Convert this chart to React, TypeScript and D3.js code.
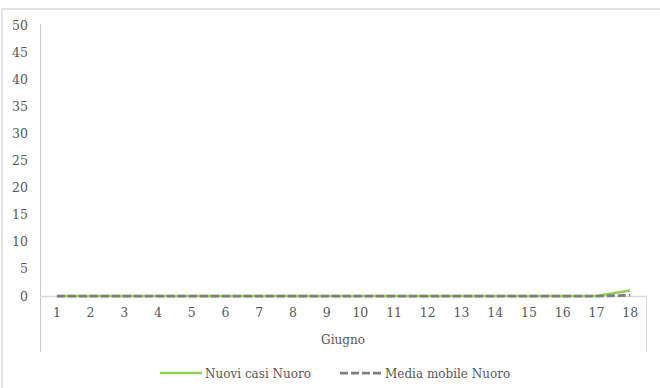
import React, { useEffect, useRef } from "react";
import * as d3 from "d3";

const days = ["1", "2", "3", "4", "5", "6", "7", "8", "9", "10", "11", "12", "13", "14", "15", "16", "17", "18"];
const nuoviCasi = [0, 0, 0, 0, 0, 0, 0, 0, 0, 0, 0, 0, 0, 0, 0, 0, 0, 1];
const mediaMobile = [0, 0, 0, 0, 0, 0, 0, 0, 0, 0, 0, 0, 0, 0, 0, 0, 0, 0.14];
const yTicks = [0, 5, 10, 15, 20, 25, 30, 35, 40, 45, 50];

const W = 660;
const H = 388;
const FONT = "'DejaVu Serif', serif";

function App() {
  const svgRef: any = useRef(null);

  useEffect(() => {
    draw();
  }, []);

  const draw = () => {
    const svg = d3.select(svgRef.current);
    svg.selectAll("*").remove();

    // outer chart frame
    svg
      .append("rect")
      .attr("x", 2)
      .attr("y", 9)
      .attr("width", W + 10)
      .attr("height", H + 10)
      .attr("fill", "#fff")
      .attr("stroke", "#d9d9d9")
      .attr("stroke-width", 1.5);

    const x = d3.scaleBand().domain(days).range([40, 647]);
    const y = d3.scaleLinear().domain([0, 50]).range([296, 25]);
    const cx = (d: string) => (x(d) as number) + x.bandwidth() / 2;

    // y axis
    const gy = svg.append("g").attr("transform", "translate(40,0)");
    gy.call(d3.axisLeft(y).tickValues(yTicks).tickSize(0).tickPadding(12) as any);
    gy.select(".domain").remove();
    gy.selectAll("text")
      .attr("fill", "#595959")
      .attr("font-family", FONT)
      .attr("font-size", 12.5);
    svg
      .append("line")
      .attr("x1", 40.5)
      .attr("x2", 40.5)
      .attr("y1", y(50) - 1)
      .attr("y2", 352)
      .attr("stroke", "#c8c8c8")
      .attr("stroke-width", 1);

    // x axis
    svg
      .append("line")
      .attr("x1", 40)
      .attr("x2", 647)
      .attr("y1", y(0) + 0.5)
      .attr("y2", y(0) + 0.5)
      .attr("stroke", "#d9d9d9")
      .attr("stroke-width", 1.5);
    svg
      .append("line")
      .attr("x1", 646.5)
      .attr("x2", 646.5)
      .attr("y1", y(0))
      .attr("y2", 352)
      .attr("stroke", "#d9d9d9")
      .attr("stroke-width", 1);
    const gx = svg.append("g").attr("transform", `translate(0,${y(0)})`);
    gx.call(d3.axisBottom(x).tickSize(0).tickPadding(12) as any);
    gx.select(".domain").remove();
    gx.selectAll("text")
      .attr("fill", "#595959")
      .attr("font-family", FONT)
      .attr("font-size", 12.5);

    svg
      .append("text")
      .attr("x", 343)
      .attr("y", 344)
      .attr("text-anchor", "middle")
      .attr("fill", "#595959")
      .attr("font-family", FONT)
      .attr("font-size", 12)
      .text("Giugno");

    const line = d3
      .line<number>()
      .x((_d, i) => cx(days[i]))
      .y((d) => y(d));

    svg
      .append("path")
      .datum(nuoviCasi)
      .attr("fill", "none")
      .attr("stroke", "#92d050")
      .attr("stroke-width", 2.5)
      .attr("d", line as any);

    svg
      .append("path")
      .datum(mediaMobile)
      .attr("fill", "none")
      .attr("stroke", "#7f7f7f")
      .attr("stroke-width", 2.75)
      .attr("stroke-dasharray", "8,3")
      .attr("d", line as any);

    // legend
    const lg = svg.append("g");
    lg.append("line")
      .attr("x1", 160)
      .attr("x2", 202)
      .attr("y1", 373)
      .attr("y2", 373)
      .attr("stroke", "#92d050")
      .attr("stroke-width", 2.5);
    lg.append("text")
      .attr("x", 205)
      .attr("y", 377.5)
      .attr("fill", "#595959")
      .attr("font-family", FONT)
      .attr("font-size", 12)
      .text("Nuovi casi Nuoro");
    lg.append("line")
      .attr("x1", 340)
      .attr("x2", 383)
      .attr("y1", 373)
      .attr("y2", 373)
      .attr("stroke", "#7f7f7f")
      .attr("stroke-width", 2.75)
      .attr("stroke-dasharray", "8,3");
    lg.append("text")
      .attr("x", 385)
      .attr("y", 377.5)
      .attr("fill", "#595959")
      .attr("font-family", FONT)
      .attr("font-size", 12)
      .text("Media mobile Nuoro");
  };

  return (
    <svg
      ref={svgRef}
      width={W}
      height={H}
      style={{ position: "absolute", left: 0, top: 0, display: "block" }}
    />
  );
}

export default App;
